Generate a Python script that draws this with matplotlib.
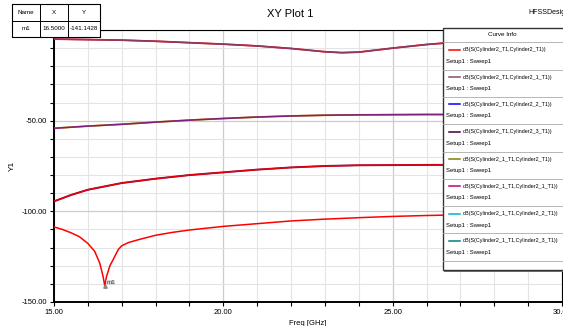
import matplotlib
matplotlib.use('Agg')
import matplotlib.pyplot as plt
from matplotlib.patches import Rectangle
from matplotlib.lines import Line2D
from matplotlib.ticker import MultipleLocator, FuncFormatter

plt.rcParams['font.family'] = ['Liberation Sans Narrow', 'Liberation Sans', 'DejaVu Sans']

# curve data (Freq GHz, dB)
freq_top = [15, 16, 17, 18, 19, 20, 21, 22, 23, 23.5, 24, 25, 26, 27, 28, 29, 30]
db_top = [-5.0, -5.3, -5.6, -6.2, -7.0, -7.8, -8.8, -10.2, -12.0, -12.5, -12.2, -10.0, -8.0, -6.5, -5.5, -5.0, -4.8]

freq_mid = [15, 16, 17, 18, 19, 20, 21, 22, 23, 24, 25, 26, 27, 28, 29, 30]
db_mid = [-54.2, -53.0, -52.0, -50.8, -49.7, -48.8, -48.0, -47.4, -47.0, -46.8, -46.7, -46.6, -46.6, -46.5, -46.5, -46.5]

freq_low = [15, 15.5, 16, 17, 18, 19, 20, 21, 22, 23, 24, 25, 26, 27, 28, 29, 30]
db_low = [-94.5, -91.0, -88.1, -84.4, -82.0, -80.0, -78.5, -77.0, -75.8, -75.0, -74.6, -74.5, -74.4, -74.4, -74.3, -74.3, -74.3]

freq_notch = [15, 15.25, 15.5, 15.75, 16, 16.2, 16.35, 16.45, 16.5, 16.55, 16.65, 16.75, 16.9, 17.0,
              17.2, 17.5, 18, 18.5, 19, 20, 21, 22, 23, 24, 25, 26, 27, 28, 29, 30]
db_notch = [-108.6, -110.0, -111.8, -114.0, -117.7, -122.0, -128.5, -136.0, -141.14, -136.0, -130.0, -126.5,
            -121.0, -119.0, -117.2, -115.6, -113.2, -111.6, -110.3, -108.3, -106.8, -105.3, -104.3, -103.5,
            -102.8, -102.3, -101.9, -101.6, -101.4, -101.2]

curve_names = ['dB(S(Cylinder2_T1,Cylinder2_T1))', 'dB(S(Cylinder2_T1,Cylinder2_1_T1))',
               'dB(S(Cylinder2_T1,Cylinder2_2_T1))', 'dB(S(Cylinder2_T1,Cylinder2_3_T1))',
               'dB(S(Cylinder2_1_T1,Cylinder2_T1))', 'dB(S(Cylinder2_1_T1,Cylinder2_1_T1))',
               'dB(S(Cylinder2_1_T1,Cylinder2_2_T1))', 'dB(S(Cylinder2_1_T1,Cylinder2_3_T1))']
curve_colors = ['#ff0000', '#8b4a6a', '#0000ff', '#400040', '#808000', '#c8006e', '#00b4c8', '#008080']

marker_f = 16.5
marker_db = -141.1428

fig = plt.figure(figsize=(5.63, 3.26), dpi=100)
fig.patch.set_facecolor('white')
ax = fig.add_axes([54 / 563, 24 / 326, 508 / 563, 272 / 326])

ax.plot(freq_top, db_top, color='#e01020', lw=1.3, zorder=3)
ax.plot(freq_top, db_top, color='#8b3a62', lw=1.1, zorder=3)
ax.plot(freq_mid, db_mid, color='#c08000', lw=1.3, zorder=3)
ax.plot(freq_mid, db_mid, color='#80207a', lw=1.1, zorder=3)
ax.plot(freq_low, db_low, color='#8b1040', lw=1.4, zorder=3)
ax.plot(freq_low, db_low, color='#e8000c', lw=1.0, zorder=3)
ax.plot(freq_notch, db_notch, color='#ff0000', lw=1.1, zorder=3)

ax.set_xlim(15, 30)
ax.set_ylim(-150, 0)
ax.xaxis.set_major_locator(MultipleLocator(5))
ax.xaxis.set_minor_locator(MultipleLocator(1))
ax.yaxis.set_major_locator(MultipleLocator(50))
ax.yaxis.set_minor_locator(MultipleLocator(10))
ax.xaxis.set_major_formatter(FuncFormatter(lambda v, p: '%.2f' % v))
ax.yaxis.set_major_formatter(FuncFormatter(lambda v, p: '' if v == 0 else '%.2f' % v))
ax.grid(which='minor', color='#e4e4e4', lw=0.8)
ax.grid(which='major', color='#cccccc', lw=0.9)
ax.set_axisbelow(True)
ax.tick_params(which='both', direction='out', labelsize=5.5, length=3, width=0.8, pad=2)
for s in ['left', 'bottom']:
    ax.spines[s].set_linewidth(1.4)
for s in ['top', 'right']:
    ax.spines[s].set_linewidth(0.8)
ax.set_xlabel('Freq [GHz]', fontsize=5.5, labelpad=3)
ax.set_ylabel('Y1', fontsize=6)
ax.yaxis.set_label_coords(-0.075, 0.5)

# marker m1
ax.plot([marker_f], [marker_db], marker='^', ms=2.5, color='#888888', zorder=4)
ax.text(marker_f + 0.05, marker_db + 1, 'm1', fontsize=4.5, color='#444444', zorder=5,
        bbox=dict(boxstyle='square,pad=0.05', fc='#cfcfcf', ec='none', alpha=0.8))

fig.text(290 / 563, 1 - 14 / 326, 'XY Plot 1', fontsize=8, ha='center', va='center')
fig.text(528 / 563, 1 - 12 / 326, 'HFSSDesign1', fontsize=5, ha='left', va='center')

# marker table
tx = [12, 40, 68, 100]
ty = [4, 21, 37]
table_rows = [['Name', 'X', 'Y'], ['m1', '%.4f' % marker_f, '%.4f' % marker_db]]
fig.patches.append(Rectangle((tx[0] / 563, 1 - ty[2] / 326), (tx[3] - tx[0]) / 563, (ty[2] - ty[0]) / 326,
                             transform=fig.transFigure, fc='white', ec='black', lw=0.8, zorder=10))
for r, row in enumerate(table_rows):
    for c, val in enumerate(row):
        fig.patches.append(Rectangle((tx[c] / 563, 1 - ty[r + 1] / 326), (tx[c + 1] - tx[c]) / 563,
                                     (ty[r + 1] - ty[r]) / 326, transform=fig.transFigure,
                                     fc='none', ec='black', lw=0.6, zorder=11))
        fig.text((tx[c] + tx[c + 1]) / 2 / 563, 1 - (ty[r] + ty[r + 1]) / 2 / 326, val,
                 fontsize=4.5, ha='center', va='center', zorder=12)

# curve info box
lx0, lx1, ly0, ly1 = 443, 575, 28, 270
fig.patches.append(Rectangle((lx0 / 563 + 0.002, 1 - (ly1 + 2) / 326), (lx1 - lx0) / 563, (ly1 - ly0) / 326,
                             transform=fig.transFigure, fc='#777777', ec='none', zorder=9))
fig.patches.append(Rectangle((lx0 / 563, 1 - ly1 / 326), (lx1 - lx0) / 563, (ly1 - ly0) / 326,
                             transform=fig.transFigure, fc='white', ec='#333333', lw=1.0, zorder=10))
fig.text(502 / 563, 1 - 35 / 326, 'Curve Info', fontsize=4.5, ha='center', va='center', zorder=12)
entry_h = 27.3
for i, (name, col) in enumerate(zip(curve_names, curve_colors)):
    top = 42.3 + i * entry_h
    fig.lines.append(Line2D([lx0 / 563, lx1 / 563], [1 - top / 326] * 2, transform=fig.transFigure,
                            color='#aaaaaa', lw=0.6, zorder=11))
    fig.lines.append(Line2D([449 / 563, 460 / 563], [1 - (top + 7.5) / 326] * 2, transform=fig.transFigure,
                            color=col, lw=1.1, zorder=12))
    fig.text(463 / 563, 1 - (top + 7.5) / 326, name, fontsize=3.9, ha='left', va='center', zorder=12)
    fig.text(446 / 563, 1 - (top + 19) / 326, 'Setup1 : Sweep1', fontsize=4.2, ha='left', va='center', zorder=12)
fig.lines.append(Line2D([lx0 / 563, lx1 / 563], [1 - (42.3 + 8 * entry_h) / 326] * 2, transform=fig.transFigure,
                        color='#aaaaaa', lw=0.6, zorder=11))

fig.savefig('out.png', dpi=100)
